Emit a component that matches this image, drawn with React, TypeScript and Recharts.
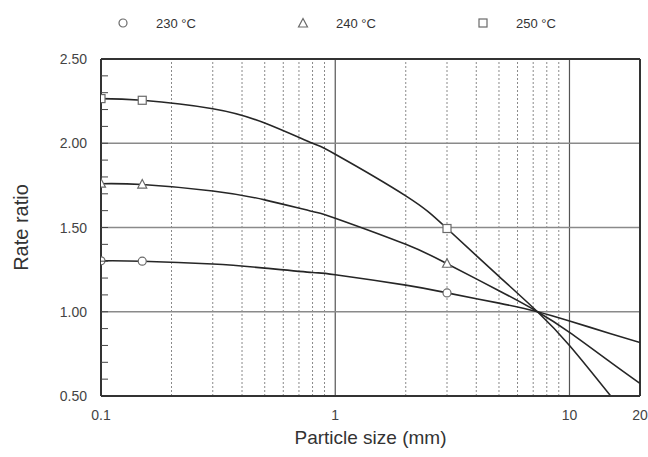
import { ComposedChart, Line, Scatter, XAxis, YAxis, ReferenceLine } from "recharts";

// curve readings (particle size in mm, rate ratio)
const size230 = [0.1, 0.15, 0.3, 0.5, 0.8, 1, 2, 3, 5, 7.3, 10, 15, 20];
const ratio230 = [1.302, 1.3, 1.283, 1.259, 1.233, 1.22, 1.158, 1.112, 1.051, 1.0, 0.945, 0.87, 0.817];

const size240 = [0.1, 0.15, 0.3, 0.5, 0.8, 1, 2, 3, 5, 7.3, 10, 15, 20];
const ratio240 = [1.76, 1.755, 1.717, 1.664, 1.595, 1.555, 1.4, 1.285, 1.125, 1.0, 0.878, 0.7, 0.575];

const size250 = [0.1, 0.15, 0.3, 0.5, 0.8, 1, 2, 3, 5, 7.3, 10, 15];
const ratio250 = [2.265, 2.255, 2.205, 2.12, 2.0, 1.935, 1.688, 1.494, 1.21, 1.0, 0.8, 0.5];

// measured points shown with markers
const markerSizes = [0.1, 0.15, 3];
const markers230 = [1.302, 1.3, 1.112];
const markers240 = [1.76, 1.755, 1.285];
const markers250 = [2.265, 2.255, 1.494];

const xTicks = [0.1, 1, 10, 20];
const xMajorGrid = [1, 10];
const xMinorGrid = [0.2, 0.3, 0.4, 0.5, 0.6, 0.7, 0.8, 0.9, 2, 3, 4, 5, 6, 7, 8, 9];
const yTicks = [0.5, 0.6, 0.7, 0.8, 0.9, 1.0, 1.1, 1.2, 1.3, 1.4, 1.5, 1.6, 1.7, 1.8, 1.9, 2.0, 2.1, 2.2, 2.3, 2.4, 2.5];
const yGrid = [1.0, 1.5, 2.0];

const legendLabels = ["230 °C", "240 °C", "250 °C"];

const toPoints = (xs: number[], ys: number[]) => xs.map((x, i) => ({ x, y: ys[i] }));

const FONT = "'Liberation Sans', Arial, sans-serif";
const MARK = "#6a6a6a";

const Circle = ({ cx, cy }: any) => (
  <circle cx={cx} cy={cy} r={4} fill="#fff" stroke={MARK} strokeWidth={1.2} />
);
const Triangle = ({ cx, cy }: any) => (
  <polygon
    points={`${cx},${cy - 5} ${cx - 4.5},${cy + 3.5} ${cx + 4.5},${cy + 3.5}`}
    fill="#fff"
    stroke={MARK}
    strokeWidth={1.2}
  />
);
const Square = ({ cx, cy }: any) => (
  <rect x={cx - 4} y={cy - 4} width={8} height={8} fill="#fff" stroke={MARK} strokeWidth={1.2} />
);

const YTick = ({ x, y, payload }: any) => {
  const v = payload.value;
  const major = Math.round(v * 100) % 50 === 0;
  return (
    <g>
      {v > 0.5 && v < 2.5 && <line x1={x} x2={x + 7} y1={y} y2={y} stroke="#444" strokeWidth={1} />}
      {major && (
        <text x={x - 14} y={y} dy={5} textAnchor="end" fontSize={14} fill="#444" fontFamily={FONT}>
          {v.toFixed(2)}
        </text>
      )}
    </g>
  );
};

const LegendItem = ({ left, label, shape }: { left: number; label: string; shape: string }) => (
  <div style={{ position: "absolute", left: left - 6, top: 13, height: 20, display: "flex", alignItems: "center" }}>
    <svg width={12} height={12} style={{ display: "block" }}>
      {shape === "circle" && <Circle cx={6} cy={6} />}
      {shape === "triangle" && <Triangle cx={6} cy={6.5} />}
      {shape === "square" && <Square cx={6} cy={6} />}
    </svg>
    <span style={{ marginLeft: 27, fontSize: 13, color: "#333", fontFamily: FONT }}>{label}</span>
  </div>
);

export default function App() {
  const lineStyle = { stroke: "#262626", strokeWidth: 1.6, dot: false, isAnimationActive: false, type: "natural" as const };
  return (
    <div style={{ position: "absolute", left: 0, top: 0, width: 648, height: 457, background: "#fff" }}>
      <LegendItem left={123} label={legendLabels[0]} shape="circle" />
      <LegendItem left={303} label={legendLabels[1]} shape="triangle" />
      <LegendItem left={483} label={legendLabels[2]} shape="square" />
      <ComposedChart width={648} height={457} margin={{ top: 59, right: 8, bottom: 0, left: 0 }}>
        <XAxis
          dataKey="x"
          type="number"
          scale="log"
          domain={[0.1, 20]}
          allowDataOverflow
          ticks={xTicks}
          height={61}
          tickLine={false}
          tickSize={0}
          tickMargin={14}
          tick={{ fontSize: 14, fill: "#444", fontFamily: FONT }}
          axisLine={{ stroke: "#333", strokeWidth: 2 }}
          label={{
            content: ({ viewBox }: any) => (
              <text
                x={viewBox.x + viewBox.width / 2}
                y={viewBox.y + 48}
                textAnchor="middle"
                fontSize={19}
                fill="#333"
                fontFamily={FONT}
              >
                Particle size (mm)
              </text>
            ),
          }}
        />
        <YAxis
          dataKey="y"
          type="number"
          domain={[0.5, 2.5]}
          allowDataOverflow
          ticks={yTicks}
          interval={0}
          width={101}
          tickLine={false}
          tickSize={0}
          tickMargin={0}
          tick={<YTick />}
          axisLine={{ stroke: "#333", strokeWidth: 2 }}
          label={{
            content: ({ viewBox }: any) => {
              const cx = viewBox.x + 21;
              const cy = viewBox.y + viewBox.height / 2;
              return (
                <text
                  x={cx}
                  y={cy}
                  transform={`rotate(-90 ${cx} ${cy})`}
                  textAnchor="middle"
                  dominantBaseline="central"
                  fontSize={20}
                  fill="#333"
                  fontFamily={FONT}
                >
                  Rate ratio
                </text>
              );
            },
          }}
        />
        {xMinorGrid.map((v) => (
          <ReferenceLine key={`xm${v}`} x={v} stroke="#8a8a8a" strokeDasharray="2 2" strokeWidth={1} />
        ))}
        {xMajorGrid.map((v) => (
          <ReferenceLine key={`xM${v}`} x={v} stroke="#555" strokeWidth={1.2} />
        ))}
        {yGrid.map((v) => (
          <ReferenceLine key={`y${v}`} y={v} stroke="#8a8a8a" strokeWidth={1.5} />
        ))}
        <ReferenceLine y={2.5} stroke="#333" strokeWidth={2} />
        <ReferenceLine x={20} stroke="#333" strokeWidth={2} />
        <Line data={toPoints(size230, ratio230)} dataKey="y" {...lineStyle} />
        <Line data={toPoints(size240, ratio240)} dataKey="y" {...lineStyle} />
        <Line data={toPoints(size250, ratio250)} dataKey="y" {...lineStyle} />
        <Scatter data={toPoints(markerSizes, markers230)} shape={<Circle />} isAnimationActive={false} />
        <Scatter data={toPoints(markerSizes, markers240)} shape={<Triangle />} isAnimationActive={false} />
        <Scatter data={toPoints(markerSizes, markers250)} shape={<Square />} isAnimationActive={false} />
      </ComposedChart>
    </div>
  );
}
